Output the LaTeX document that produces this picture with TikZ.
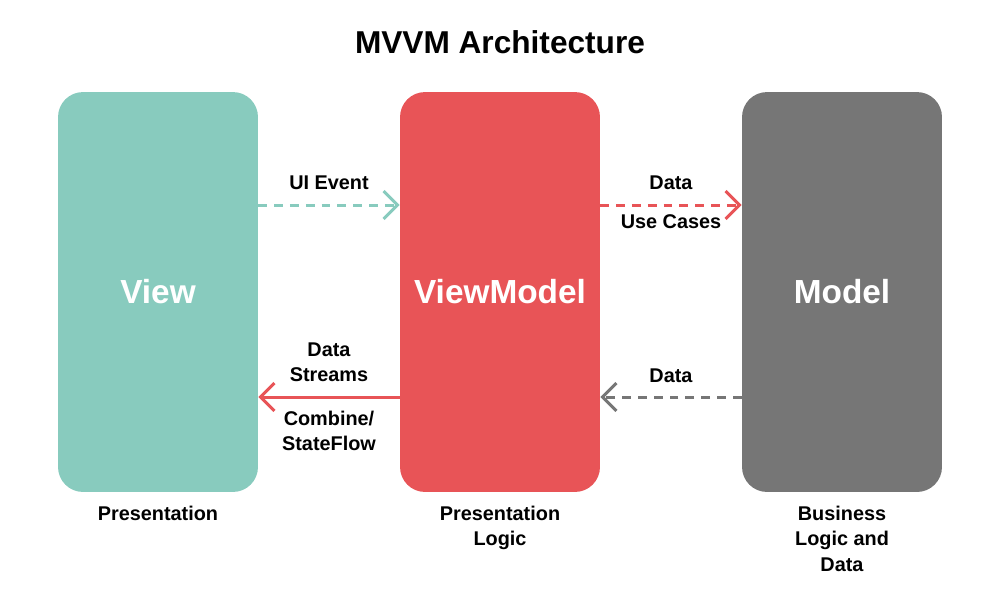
\documentclass[tikz,border=0pt]{standalone}
\usepackage{fontspec}
\setmainfont{Liberation Sans}
\usetikzlibrary{arrows.meta,positioning}
\definecolor{viewcol}{HTML}{88CBBE}
\definecolor{vmcol}{HTML}{E85457}
\definecolor{modelcol}{HTML}{767676}
\tikzset{
  layer/.style = {rounded corners=0.5cm, minimum width=4cm, minimum height=8cm,
                  inner sep=0pt, text=white, font=\fontsize{19}{22}\selectfont\bfseries},
  lbl/.style = {font=\fontsize{11.3}{14.5}\selectfont\bfseries, align=center},
  flow/.style = {line width=1.7pt, -{Straight Barb[length=0.28cm, width=0.56cm, line width=1.7pt]}},
  dashflow/.style = {flow, dash pattern=on 5pt off 4pt}
}
\begin{document}
\begin{tikzpicture}[x = 0.02cm, y = -0.02cm]
    \useasboundingbox (0,0) rectangle (1000,600);
    \node[font=\fontsize{18}{22}\selectfont\bfseries] (title) at (500,42) {MVVM Architecture};
    \node[layer, fill=viewcol] (view) at (158,292) {View};
    \node[layer, fill=vmcol] (vm) at (500,292) {ViewModel};
    \node[layer, fill=modelcol] (model) at (842,292) {Model};
    % Connectors
    \draw[dashflow, viewcol] (view.east |- 0,205) -- (vm.west |- 0,205);
    \draw[dashflow, vmcol] (vm.east |- 0,205) -- (model.west |- 0,205);
    \draw[dashflow, modelcol] (model.west |- 0,397) -- (vm.east |- 0,397);
    \draw[flow, vmcol] (vm.west |- 0,397) -- (view.east |- 0,397);
        % Labels
    \node[lbl] (uievent) at (329,183) {UI Event};
    \node[lbl] (data1) at (671,183) {Data};
    \node[lbl] (usecases) at (671,222) {Use Cases};
    \node[lbl] (data2) at (671,376) {Data};
    \node[lbl] (streams) at (329,362) {Data\\Streams};
    \node[lbl] (combine) at (329,431) {Combine/\\StateFlow};
    \node[lbl, anchor=north] (pres) at (view.south) [yshift=-0.15cm] {Presentation};
    \node[lbl, anchor=north] (preslogic) at (vm.south) [yshift=-0.15cm] {Presentation\\Logic};
    \node[lbl, anchor=north] (business) at (model.south) [yshift=-0.15cm] {Business\\Logic and\\Data};
\end{tikzpicture}
\end{document}
